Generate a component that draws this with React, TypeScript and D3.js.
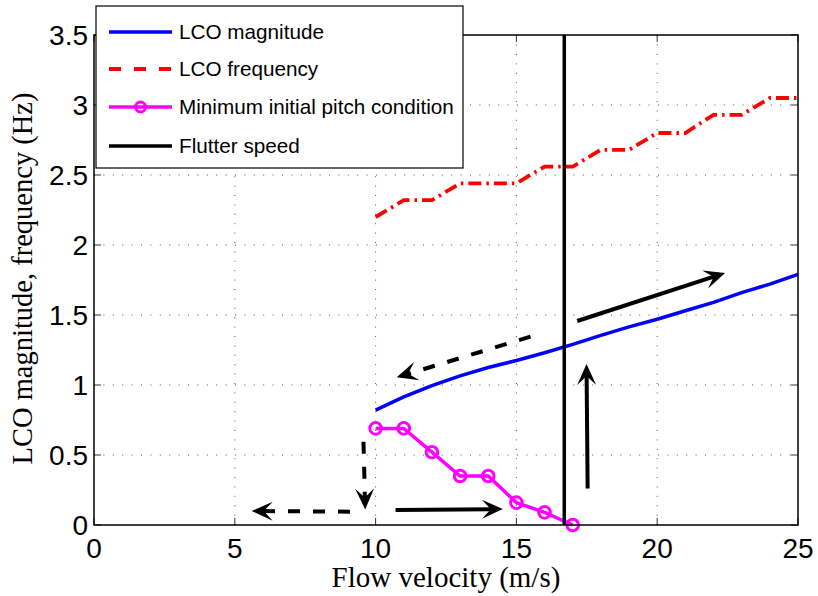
import React from "react";
import * as d3 from "d3";

// Flow velocity samples (m/s)
const velocity = [10, 11, 12, 13, 14, 15, 16, 17, 18, 19, 20, 21, 22, 23, 24, 25];
// LCO magnitude along the stable branch
const lcoMagnitude = [0.82, 0.915, 0.995, 1.065, 1.125, 1.175, 1.23, 1.29, 1.355, 1.415, 1.47, 1.53, 1.59, 1.66, 1.72, 1.79];
// LCO frequency (Hz)
const lcoFrequency = [2.2, 2.32, 2.32, 2.44, 2.44, 2.44, 2.56, 2.56, 2.68, 2.68, 2.8, 2.8, 2.93, 2.93, 3.05, 3.05];
// Minimum initial pitch needed to trigger LCO
const pitchVelocity = [10, 11, 12, 13, 14, 15, 16, 17];
const minPitch = [0.69, 0.69, 0.52, 0.35, 0.35, 0.16, 0.09, 0.0];
// Flutter speed (m/s)
const flutterSpeed = 16.7;

const xTicks = [0, 5, 10, 15, 20, 25];
const yTicks = [0, 0.5, 1, 1.5, 2, 2.5, 3, 3.5];
const yTickLabels = ["0", "0.5", "1", "1.5", "2", "2.5", "3", "3.5"];

// Hysteresis path annotations, in data coordinates
const arrowStartX = [17.16, 15.5, 17.53, 9.57, 9.09, 10.71];
const arrowStartY = [1.457, 1.345, 0.26, 0.595, 0.095, 0.107];
const arrowEndX = [22.41, 10.75, 17.49, 9.63, 5.6, 14.52];
const arrowEndY = [1.8, 1.055, 1.15, 0.11, 0.1, 0.114];
const arrowDashed = [false, true, false, true, true, false];

const legendLabels = ["LCO magnitude", "LCO frequency", "Minimum initial pitch condition", "Flutter speed"];

const W = 818;
const H = 596;
const sans = "'Liberation Sans', Arial, Helvetica, sans-serif";
const serif = "'Liberation Serif', 'Times New Roman', Times, serif";

export default function App() {
  const x = d3.scaleLinear().domain([0, 25]).range([94, 798]);
  const y = d3.scaleLinear().domain([0, 3.5]).range([525, 35]);

  const line = d3
    .line<[number, number]>()
    .x((d) => x(d[0]))
    .y((d) => y(d[1]));

  const magPts = velocity.map((v, i) => [v, lcoMagnitude[i]] as [number, number]);
  const freqPts = velocity.map((v, i) => [v, lcoFrequency[i]] as [number, number]);
  const pitchPts = pitchVelocity.map((v, i) => [v, minPitch[i]] as [number, number]);

  const [x0, x1] = x.range();
  const [y0, y1] = y.range();
  const tickLen = 7;

  const arrows = arrowStartX.map((_, i) => {
    const sx = x(arrowStartX[i]);
    const sy = y(arrowStartY[i]);
    const ex = x(arrowEndX[i]);
    const ey = y(arrowEndY[i]);
    const ang = Math.atan2(ey - sy, ex - sx);
    const L = 21;
    const Wd = 9.5;
    const notch = 12;
    const c = Math.cos(ang);
    const s = Math.sin(ang);
    const pt = (a: number, b: number) => [ex + a * c - b * s, ey + a * s + b * c];
    const head = [pt(0, 0), pt(-L, Wd), pt(-notch, 0), pt(-L, -Wd)];
    const lineEnd = pt(-notch + 1, 0);
    return { sx, sy, lx: lineEnd[0], ly: lineEnd[1], head, dashed: arrowDashed[i] };
  });

  return (
    <svg
      width={W}
      height={H}
      style={{ position: "absolute", left: 0, top: 0, display: "block", background: "#fff" }}
    >
      {/* grid */}
      <g stroke="#555" strokeWidth={1} strokeDasharray="1,8.4">
        {xTicks.slice(1, -1).map((t) => (
          <line key={"gx" + t} x1={x(t)} x2={x(t)} y1={y0} y2={y1} />
        ))}
        {yTicks.slice(1, -1).map((t) => (
          <line key={"gy" + t} x1={x0} x2={x1} y1={y(t)} y2={y(t)} />
        ))}
      </g>

      {/* ticks on all four sides, pointing inward */}
      <g stroke="#333" strokeWidth={1}>
        {xTicks.map((t) => (
          <g key={"tx" + t}>
            <line x1={x(t)} x2={x(t)} y1={y0} y2={y0 - tickLen} />
            <line x1={x(t)} x2={x(t)} y1={y1} y2={y1 + tickLen} />
          </g>
        ))}
        {yTicks.map((t) => (
          <g key={"ty" + t}>
            <line x1={x0} x2={x0 + tickLen} y1={y(t)} y2={y(t)} />
            <line x1={x1} x2={x1 - tickLen} y1={y(t)} y2={y(t)} />
          </g>
        ))}
      </g>

      {/* LCO frequency */}
      <path
        d={line(freqPts) ?? ""}
        fill="none"
        stroke="#ff0000"
        strokeWidth={3.8}
        strokeDasharray="13,5,2.5,5"
      />
      {/* LCO magnitude */}
      <path d={line(magPts) ?? ""} fill="none" stroke="#0000ff" strokeWidth={3.5} />
      {/* Minimum initial pitch */}
      <path d={line(pitchPts) ?? ""} fill="none" stroke="#ff00ff" strokeWidth={3.5} />
      {pitchPts.map((p, i) => (
        <circle
          key={"m" + i}
          cx={x(p[0])}
          cy={y(p[1])}
          r={5.8}
          fill="none"
          stroke="#ff00ff"
          strokeWidth={3}
        />
      ))}
      {/* Flutter speed */}
      <line
        x1={x(flutterSpeed)}
        x2={x(flutterSpeed)}
        y1={y(0)}
        y2={y(3.5)}
        stroke="#000"
        strokeWidth={3.5}
      />

      {/* hysteresis arrows */}
      <g>
        {arrows.map((a, i) => (
          <g key={"a" + i}>
            <line
              x1={a.sx}
              y1={a.sy}
              x2={a.lx}
              y2={a.ly}
              stroke="#000"
              strokeWidth={4}
              strokeDasharray={a.dashed ? "12,13" : undefined}
            />
            <polygon points={a.head.map((p) => p.join(",")).join(" ")} fill="#000" />
          </g>
        ))}
      </g>

      {/* axes box */}
      <rect x={x0} y={y1} width={x1 - x0} height={y0 - y1} fill="none" stroke="#000" strokeWidth={1.5} />

      {/* tick labels */}
      <g fontFamily={sans} fontSize={28} fill="#000">
        {xTicks.map((t) => (
          <text key={"lx" + t} x={x(t)} y={558} textAnchor="middle">
            {String(t)}
          </text>
        ))}
        {yTicks.map((t, i) => (
          <text key={"ly" + t} x={88} y={y(t)} dy="0.36em" textAnchor="end">
            {yTickLabels[i]}
          </text>
        ))}
      </g>

      {/* axis titles */}
      <text x={(x0 + x1) / 2} y={587} textAnchor="middle" fontFamily={serif} fontSize={29}>
        Flow velocity (m/s)
      </text>
      <text
        transform={`translate(32,278.5) rotate(-90)`}
        textAnchor="middle"
        fontFamily={serif}
        fontSize={28.5}
      >
        LCO magnitude, frequency (Hz)
      </text>

      {/* legend */}
      <g>
        <rect x={96} y={6} width={367} height={162} fill="#fff" stroke="#000" strokeWidth={1.2} />
        {legendLabels.map((lbl, i) => {
          const ry = [32, 69, 107, 146][i];
          return (
            <g key={"lg" + i}>
              {i === 0 && <line x1={109} x2={172} y1={ry} y2={ry} stroke="#0000ff" strokeWidth={3.5} />}
              {i === 1 && (
                <line x1={109} x2={172} y1={ry} y2={ry} stroke="#ff0000" strokeWidth={3.8} strokeDasharray="12,13" />
              )}
              {i === 2 && (
                <g>
                  <line x1={109} x2={172} y1={ry} y2={ry} stroke="#ff00ff" strokeWidth={3.5} />
                  <circle cx={140.5} cy={ry} r={5} fill="none" stroke="#ff00ff" strokeWidth={3} />
                </g>
              )}
              {i === 3 && <line x1={109} x2={172} y1={ry} y2={ry} stroke="#000" strokeWidth={3.5} />}
              <text x={179} y={ry} dy="0.36em" fontFamily={sans} fontSize={20.7}>
                {lbl}
              </text>
            </g>
          );
        })}
      </g>
    </svg>
  );
}
